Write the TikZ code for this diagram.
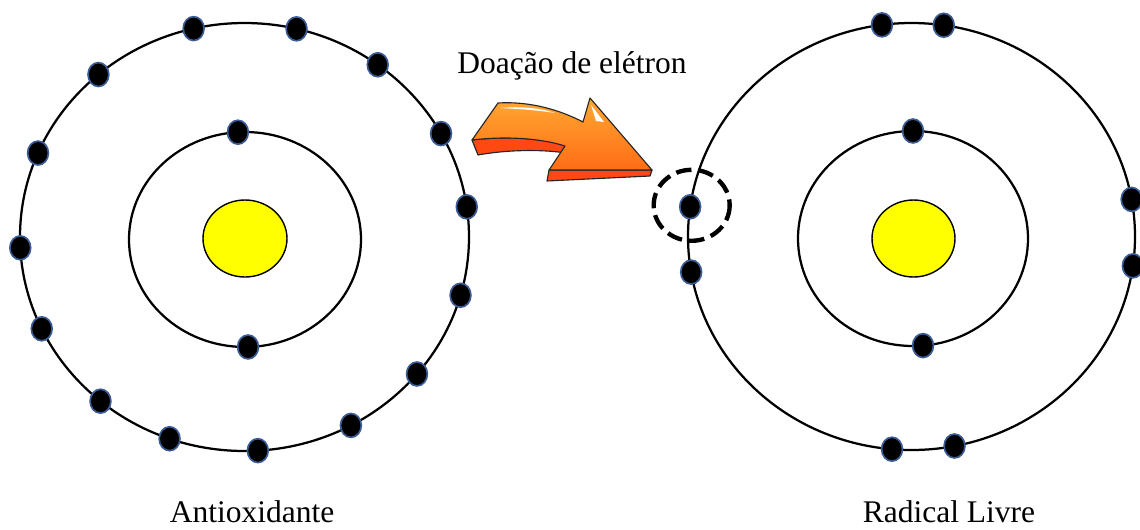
\documentclass[tikz,border=0pt]{standalone}
\usepackage{fontspec}
\setmainfont{Liberation Serif}
\usepackage{tikz}
\usetikzlibrary{positioning, calc}

\definecolor{elecrim}{RGB}{60,92,150}
\definecolor{nucyellow}{RGB}{255,255,0}
\definecolor{arrowtop}{RGB}{255,168,50}
\definecolor{arrowmid}{RGB}{255,108,22}
\definecolor{arrowside}{RGB}{255,72,18}

\tikzset{
	orbit/.style={draw=black, line width=1.6pt},
	nucleus/.style={draw=black, fill=nucyellow, line width=1pt},
	electron/.style={draw=elecrim, fill=black, line width=1.2pt},
	ring/.style={draw=black, line width=3.1pt, dash pattern=on 11pt off 5pt},
	arrowline/.style={draw=black!85, line width=0.8pt, line join=round},
	caption/.style={font=\fontsize{22.4}{26}\selectfont, anchor=base, inner sep=0pt}
}

\begin{document}
\begin{tikzpicture}[x=0.025cm, y=-0.025cm]
	\useasboundingbox (0,0) rectangle (1140,529);

	% antioxidante: nucleo, duas camadas, 2 + 15 eletrons
	\begin{scope}[shift={(244.5,237)}]
		\draw[orbit] (0.5,2.5) ellipse (116 and 107.5);
		\draw[orbit] (0,0) ellipse (224.5 and 214);
		\draw[nucleus] (0.5,1.5) ellipse (42 and 38.5);
		\foreach \a in {-93.5,88.5}
			\draw[electron] ($(0.5,2.5)+(\a:116 and 107.5)$) ellipse [x radius=7.4pt, y radius=8.5pt];
		\foreach \a in {-103.1,-76.6,-53.6,-28.9,-8.1,15.8,39.8,61.7,86.6,109.5,129.9,154.6,177.1,203.1,229.4}
			\draw[electron] (\a:224.5 and 214) ellipse [x radius=7.4pt, y radius=8.5pt];
	\end{scope}

	% radical livre: falta um eletron na camada externa
	\begin{scope}[shift={(911.5,236.5)}]
		\draw[orbit] (1.5,2) ellipse (115 and 107.5);
		\draw[orbit] (0,0) ellipse (223.5 and 213.5);
		\draw[nucleus] (2,2) ellipse (41.5 and 38.5);
		\foreach \a in {-90,85}
			\draw[electron] ($(1.5,2)+(\a:115 and 107.5)$) ellipse [x radius=7.4pt, y radius=8.5pt];
		\foreach \a in {-97.6,-81.7,-10,7.9,78.9,95,170.4}
			\draw[electron] (\a:223.5 and 213.5) ellipse [x radius=7.4pt, y radius=8.5pt];
		\coordinate (lost) at (188:223.5 and 213.5);
		\draw[electron] (lost) ellipse [x radius=7.4pt, y radius=8.5pt];
	\end{scope}
	\draw[ring] ($(lost)+(1.5,-1.5)$) ellipse (38 and 35.5);

	% seta laranja em 3D
	\draw[arrowline, fill=arrowside] (472,140) .. controls (505,136) and (540,138) .. (565,145)
		-- (566,153) .. controls (540,149) and (505,150) .. (478,155) -- cycle;
	\draw[arrowline, fill=arrowside] (549,170) -- (652,170) -- (650,176) -- (547,181) -- cycle;
	\draw[arrowline, top color=arrowtop, bottom color=arrowmid]
		(472,140) -- (498,103) .. controls (530,101) and (560,110) .. (583,122)
		-- (590,98) -- (652,170) -- (549,170) -- (565,146)
		.. controls (540,138) and (505,136) .. (472,140) -- cycle;
	\fill[white] (500,108) .. controls (520,106) and (540,108) .. (555,113)
		.. controls (540,110.5) and (520,109) .. (500,108) -- cycle;
	\fill[white] (591,105) -- (604,122) -- (596,121) -- cycle;

	% textos
	\node[caption] (donation) at (572,73) {Doação de elétron};
	\node[caption] (antiLabel) at (252,522) {Antioxidante};
	\node[caption] (radicalLabel) at (949,522) {Radical Livre};
\end{tikzpicture}
\end{document}
